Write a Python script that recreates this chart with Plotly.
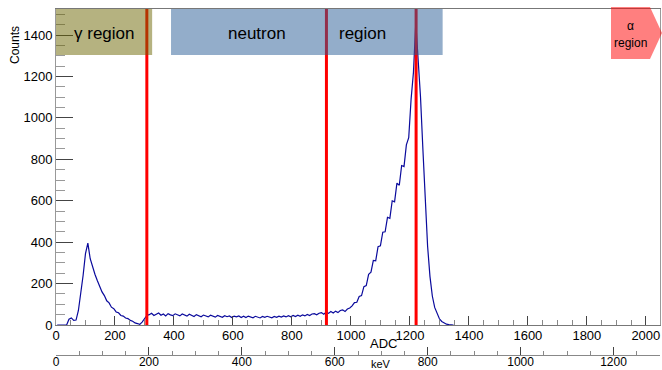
import numpy as np
import plotly.graph_objects as go

# ---------------- data ----------------
BIN_W = 8  # ADC channels per bin
counts = [
    0, 0, 0, 0, 0, 28, 34, 22, 24, 70,
    150, 240, 345, 395, 320, 280, 245, 215, 185, 160,
    142, 117, 107, 86, 79, 63, 59, 46, 43, 34,
    31, 22, 18, 10, 7, 3, 14, 32, 46,
    # plateau 312 .. 992
    50, 57, 46, 54, 58, 47, 53, 44, 55, 49, 45, 54, 48, 44, 53, 47, 43, 52, 46, 41,
    50, 45, 40, 48, 43, 39, 47, 42, 38, 46, 41, 37, 45, 40, 44, 36, 43, 39, 44, 36,
    42, 36, 43, 39, 35, 42, 38, 34, 41, 37, 42, 38, 35, 41, 37, 43, 38, 44, 39, 45,
    40, 46, 41, 47, 42, 49, 44, 51, 46, 53, 55, 49, 57, 60, 52, 62, 56, 65, 58, 67,
    60, 70, 73, 65, 77, 82,
    # rise and full-energy peak 1000 ..
    92, 108, 110, 138, 142, 185, 190, 245, 255, 312,
    310, 378, 382, 448, 450, 520, 515, 600, 595, 685,
    675, 770, 765, 870, 905, 1090, 1220, 1460, 1280, 1100,
    850, 600, 380, 235, 140, 85, 52, 30, 17, 9,
    4, 2, 1, 0,
]
cut_adc = [308, 917, 1221]
adc_range = [0, 2048]
kev_range = [0, 1300]
count_range = [0, 1526]
x_ticks = list(range(0, 2001, 200))
kev_ticks = list(range(0, 1201, 200))
y_ticks = list(range(0, 1401, 200))

centers = np.arange(len(counts)) * BIN_W + BIN_W / 2

# ---------------- layout helpers ----------------
W, H = 662, 370
ML, MR, MT, MB = 56, 2, 9, 5
PW, PH = W - ML - MR, H - MT - MB


def px(xp):
    return (xp - ML) / PW


def py(yp):
    return (H - MB - yp) / PH


FONT = "Liberation Sans, Arial, sans-serif"

fig = go.Figure()
fig.add_trace(go.Scatter(
    x=centers, y=counts, mode="lines",
    line=dict(color="#0a0a9c", width=1.2),
    showlegend=False, hoverinfo="skip",
))
# invisible trace that registers the keV axis
fig.add_trace(go.Scatter(
    x=kev_range, y=[0, 0], xaxis="x2", yaxis="y", mode="markers",
    marker=dict(opacity=0, size=1), showlegend=False, hoverinfo="skip",
))

# red cut lines
for c in cut_adc:
    fig.add_shape(type="line", xref="x", yref="y domain", x0=c, x1=c, y0=0, y1=1,
                  line=dict(color="#ff0000", width=3), layer="above")

# region boxes (semi-transparent, on top)
fig.add_shape(type="rect", xref="x", yref="paper", x0=0, x1=326, y0=py(55), y1=py(9),
              fillcolor="rgb(107,101,1)", opacity=0.5, line=dict(width=0), layer="above")
fig.add_shape(type="rect", xref="x", yref="paper", x0=390, x1=1311, y0=py(55), y1=py(9),
              fillcolor="rgb(39,91,149)", opacity=0.5, line=dict(width=0), layer="above")
path = "M {a},{t} L {b},{t} L {c},{m} L {b},{bt} L {a},{bt} Z".format(
    a=px(611), b=px(650), c=px(662), t=py(7), m=py(33), bt=py(59))
fig.add_shape(type="path", xref="paper", yref="paper", path=path,
              fillcolor="rgb(255,0,0)", opacity=0.5, line=dict(width=0), layer="above")

ann = [
    dict(text="γ region", x=px(104), y=py(33), size=17),
    dict(text="neutron", x=px(257), y=py(33), size=17),
    dict(text="region", x=px(362), y=py(33), size=17),
    dict(text="α", x=px(630), y=py(26), size=12),
    dict(text="region", x=px(630), y=py(43), size=12),
    dict(text="ADC", x=px(383), y=py(343), size=13),
    dict(text="keV", x=px(381), y=py(364), size=11),
]
for a in ann:
    fig.add_annotation(text=a["text"], x=a["x"], y=a["y"], xref="paper", yref="paper",
                       showarrow=False, xanchor="center", yanchor="middle",
                       font=dict(family=FONT, size=a["size"], color="black"))
fig.add_annotation(text="Counts", x=px(15), y=py(45), xref="paper", yref="paper",
                   showarrow=False, textangle=-90, xanchor="center", yanchor="middle",
                   font=dict(family=FONT, size=12, color="black"))

fig.update_layout(
    width=W, height=H,
    margin=dict(l=ML, r=MR, t=MT, b=MB),
    paper_bgcolor="white", plot_bgcolor="white",
    showlegend=False,
    xaxis=dict(
        range=adc_range, domain=[0, 1], anchor="y",
        tickvals=x_ticks, ticks="inside", ticklen=9, tickcolor="#444", tickwidth=1,
        minor=dict(dtick=50, tick0=0, ticks="inside", ticklen=5, tickcolor="#888"),
        showline=True, linecolor="#777", linewidth=1, mirror=True,
        showgrid=False, zeroline=False, automargin=False, ticklabelstandoff=-2,
        tickfont=dict(family=FONT, size=13, color="black"),
    ),
    yaxis=dict(
        range=count_range, domain=[py(325), 1], anchor="x",
        tickvals=y_ticks, ticks="inside", ticklen=17, tickcolor="#444", tickwidth=1,
        minor=dict(dtick=50, tick0=0, ticks="inside", ticklen=9, tickcolor="#999"),
        showline=True, linecolor="#999", linewidth=1, mirror=True,
        showgrid=False, zeroline=False, automargin=False,
        tickfont=dict(family=FONT, size=13, color="black"),
    ),
    xaxis2=dict(
        range=kev_range, overlaying="x", anchor="free", position=py(355), side="bottom",
        tickvals=kev_ticks, ticks="inside", ticklen=8, tickcolor="#444", tickwidth=1,
        minor=dict(dtick=50, tick0=0, ticks="inside", ticklen=4, tickcolor="#888"),
        showline=True, linecolor="#888", linewidth=1,
        showgrid=False, zeroline=False, automargin=False, ticklabelstandoff=-4,
        tickfont=dict(family=FONT, size=12, color="black"),
    ),
)

fig.write_html("out.html", config={"displayModeBar": False},
               post_script="document.body.style.margin='0px';")
